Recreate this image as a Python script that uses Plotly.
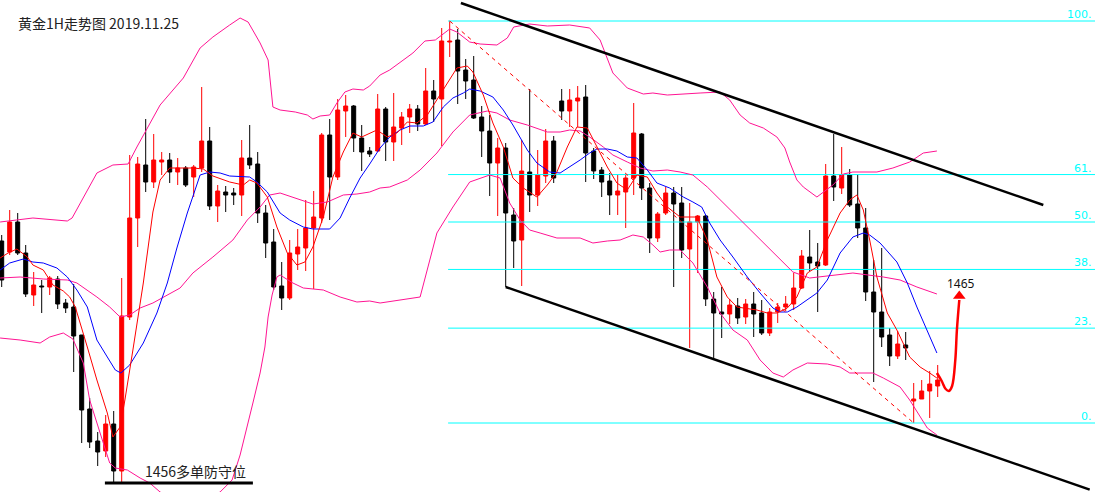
import plotly.graph_objects as go

# ---------------- candle data (1H gold) ----------------
opens = [
    1467.95, 1467.40, 1468.90, 1467.35, 1465.25, 1465.70, 1465.65, 1466.05, 1464.85, 1464.65,
    1463.25, 1459.55, 1457.95, 1457.45, 1458.80, 1456.45, 1464.15, 1469.10, 1471.75, 1470.90,
    1471.90, 1472.00, 1471.40, 1471.60, 1471.15, 1471.60, 1472.95, 1469.70, 1470.40, 1470.35,
    1470.25, 1472.10, 1471.80, 1469.35, 1467.90, 1465.70, 1465.10, 1467.30, 1467.60, 1468.60,
    1469.10, 1473.25, 1471.15, 1474.45, 1474.70, 1473.10, 1472.45, 1472.45, 1474.55, 1472.90,
    1473.60, 1474.15, 1474.55, 1473.80, 1475.45, 1475.05, 1477.90, 1478.00, 1476.50, 1476.00,
    1474.15, 1473.45, 1471.85, 1472.60, 1469.25, 1468.00, 1471.40, 1470.25, 1471.20, 1472.95,
    1474.95, 1474.45, 1474.95, 1475.15, 1472.45, 1471.50, 1470.95, 1470.25, 1470.40, 1471.10,
    1473.30, 1470.60, 1468.10, 1469.35, 1470.35, 1469.85, 1467.55, 1468.90, 1469.20, 1465.05,
    1464.40, 1464.30, 1464.70, 1464.15, 1464.80, 1464.35, 1463.35, 1464.40, 1464.65, 1464.80,
    1465.60, 1467.15, 1466.90, 1466.75, 1471.20, 1470.60, 1471.25, 1469.80, 1468.60, 1465.40,
    1464.40, 1463.25, 1462.20, 1462.75, 1459.95, 1460.05, 1460.45, 1460.70]
highs = [
    1468.25, 1469.50, 1469.35, 1467.75, 1466.40, 1466.00, 1466.20, 1466.20, 1465.05, 1465.80,
    1463.25, 1460.10, 1458.40, 1459.25, 1459.45, 1466.10, 1472.25, 1472.15, 1474.05, 1473.30,
    1472.40, 1472.35, 1472.10, 1471.70, 1471.75, 1475.65, 1473.65, 1470.75, 1470.70, 1470.60,
    1473.00, 1473.75, 1472.40, 1469.75, 1468.55, 1466.90, 1468.00, 1468.55, 1470.00, 1470.45,
    1473.35, 1474.05, 1475.05, 1475.25, 1474.75, 1473.75, 1472.65, 1475.30, 1474.65, 1475.35,
    1474.40, 1474.80, 1474.75, 1476.60, 1476.00, 1478.60, 1478.95, 1478.55, 1477.05, 1477.20,
    1474.70, 1474.25, 1473.10, 1472.85, 1469.60, 1473.00, 1475.55, 1472.50, 1473.55, 1473.20,
    1475.55, 1475.55, 1475.70, 1475.75, 1472.60, 1471.65, 1471.35, 1471.25, 1471.30, 1474.85,
    1473.35, 1470.85, 1469.40, 1470.65, 1470.65, 1470.65, 1469.85, 1469.25, 1469.25, 1465.40,
    1465.65, 1465.05, 1465.10, 1465.05, 1465.40, 1465.00, 1464.60, 1464.85, 1465.20, 1466.35,
    1467.50, 1468.50, 1467.85, 1471.80, 1473.30, 1472.65, 1471.55, 1471.30, 1469.60, 1467.00,
    1467.60, 1463.60, 1463.45, 1463.40, 1460.85, 1461.00, 1461.45, 1461.75]
lows = [
    1465.65, 1467.25, 1467.25, 1465.15, 1464.70, 1464.35, 1465.25, 1464.55, 1464.35, 1461.40,
    1457.85, 1457.60, 1456.70, 1457.15, 1455.90, 1455.90, 1464.00, 1467.65, 1470.40, 1470.60,
    1471.25, 1470.85, 1470.75, 1470.65, 1470.15, 1471.40, 1469.50, 1468.90, 1469.40, 1469.75,
    1469.20, 1471.55, 1468.85, 1467.10, 1465.50, 1464.50, 1465.00, 1466.50, 1466.45, 1465.55,
    1468.85, 1469.00, 1471.00, 1473.15, 1472.40, 1471.45, 1472.15, 1472.40, 1471.95, 1471.95,
    1472.75, 1473.35, 1473.45, 1473.75, 1473.90, 1472.70, 1477.15, 1474.80, 1475.05, 1474.05,
    1472.15, 1470.20, 1469.20, 1465.65, 1466.60, 1465.70, 1469.40, 1469.70, 1470.85, 1470.85,
    1474.00, 1473.65, 1473.65, 1470.90, 1471.05, 1470.15, 1469.25, 1469.25, 1468.60, 1470.25,
    1470.00, 1467.35, 1467.90, 1469.25, 1465.65, 1467.10, 1462.60, 1466.35, 1464.70, 1462.10,
    1463.10, 1463.80, 1463.80, 1463.80, 1463.15, 1463.25, 1463.20, 1463.85, 1464.45, 1464.50,
    1465.55, 1466.45, 1464.40, 1466.70, 1469.95, 1470.30, 1469.65, 1468.10, 1464.95, 1460.90,
    1462.65, 1461.70, 1462.05, 1462.00, 1458.85, 1460.05, 1459.10, 1460.15]
closes = [
    1466.00, 1468.90, 1467.35, 1465.30, 1465.75, 1465.65, 1466.10, 1464.80, 1464.60, 1463.20,
    1459.50, 1457.90, 1457.40, 1458.80, 1456.45, 1464.20, 1469.10, 1471.80, 1470.90, 1472.00,
    1472.00, 1471.40, 1471.60, 1470.75, 1471.65, 1472.95, 1469.70, 1470.45, 1470.25, 1470.25,
    1472.10, 1471.75, 1469.35, 1467.85, 1465.65, 1465.10, 1467.35, 1467.65, 1468.60, 1469.15,
    1473.25, 1471.15, 1474.50, 1474.70, 1473.10, 1472.40, 1472.30, 1474.55, 1472.90, 1473.65,
    1474.15, 1474.55, 1473.80, 1475.45, 1475.05, 1477.95, 1477.95, 1476.45, 1475.95, 1474.10,
    1473.45, 1471.85, 1472.60, 1469.35, 1467.95, 1471.45, 1470.25, 1471.25, 1472.95, 1471.10,
    1474.45, 1475.00, 1475.10, 1472.35, 1471.45, 1470.90, 1470.25, 1470.45, 1471.10, 1473.35,
    1470.60, 1468.10, 1469.30, 1470.35, 1469.80, 1467.50, 1468.90, 1469.20, 1465.05, 1464.35,
    1464.30, 1464.75, 1464.10, 1464.80, 1464.30, 1463.35, 1464.40, 1464.65, 1464.80, 1465.60,
    1467.20, 1466.85, 1466.70, 1471.20, 1470.65, 1471.25, 1469.75, 1468.60, 1465.40, 1464.40,
    1463.15, 1462.20, 1462.80, 1462.60, 1460.05, 1460.45, 1460.80, 1461.00]

# ---------------- indicators ----------------
ub_x = [-0.2, 3.9, 8.2, 8.8, 11.9, 13.9, 15.8, 16.9, 19.8, 22.7, 24.8, 26.4, 28.5, 29.8, 30.8, 32.3,
        33.3, 33.9, 34.8, 36.7, 38.2, 38.9, 39.8, 41.0, 41.9, 42.9, 43.9, 45.2, 46.0, 47.3, 48.5,
        50.2, 51.4, 52.9, 54.2, 56.0, 56.9, 58.5, 59.8, 61.9, 63.2, 64.0, 66.0, 68.2, 71.0, 73.5,
        74.8, 76.4, 78.2, 80.2, 81.4, 83.2, 84.8, 87.3, 89.8, 91.0, 92.3, 93.5, 95.2, 96.9, 97.9,
        98.5, 99.4, 100.2, 101.9, 102.7, 103.9, 105.2, 106.4, 109.4, 111.4, 113.5, 115.2, 116.9]
ub_y = [1468.90, 1469.10, 1468.95, 1469.10, 1471.35, 1471.75, 1471.80, 1472.65, 1474.75, 1476.10,
        1477.60, 1478.15, 1478.75, 1479.10, 1478.90, 1477.85, 1477.00, 1474.65, 1474.50, 1474.40,
        1474.25, 1474.05, 1474.20, 1474.25, 1474.85, 1475.40, 1475.55, 1475.50, 1475.70, 1476.25,
        1476.50, 1477.00, 1477.35, 1477.95, 1478.00, 1478.55, 1478.40, 1477.90, 1477.80, 1477.75,
        1478.10, 1478.65, 1478.80, 1478.70, 1478.75, 1478.60, 1478.00, 1476.35, 1475.60, 1475.30,
        1475.35, 1475.25, 1475.30, 1475.35, 1475.40, 1475.00, 1474.25, 1473.85, 1473.60, 1473.15,
        1472.60, 1471.90, 1471.00, 1470.65, 1470.15, 1470.40, 1470.75, 1471.30, 1471.40, 1471.40,
        1471.60, 1471.90, 1472.35, 1472.45]

mb_x = [-0.2, 2.3, 5.2, 8.2, 9.4, 11.9, 13.5, 14.8, 16.0, 17.3, 18.9, 20.2, 22.3, 23.9, 26.4, 28.9,
        30.7, 32.3, 33.5, 34.8, 36.4, 38.9, 40.7, 42.7, 44.4, 46.0, 47.3, 48.5, 50.7, 52.3, 54.4,
        56.4, 58.5, 60.7, 61.9, 63.5, 65.7, 68.2, 69.8, 71.0, 72.3, 73.5, 75.2, 76.4, 78.2, 79.8,
        81.4, 83.2, 84.8, 86.4, 88.2, 90.7, 93.2, 95.7, 97.3, 98.9, 101.0, 103.2, 106.4, 110.2,
        112.3, 114.4, 116.9]
mb_y = [1466.10, 1466.15, 1466.05, 1466.00, 1465.85, 1465.15, 1464.65, 1464.15, 1464.25, 1464.60,
        1464.85, 1465.15, 1465.60, 1466.35, 1467.15, 1468.00, 1469.00, 1469.65, 1470.25, 1470.35,
        1470.15, 1469.80, 1469.90, 1470.25, 1470.30, 1470.40, 1470.60, 1470.65, 1471.00, 1471.50,
        1472.35, 1473.40, 1474.25, 1474.45, 1474.35, 1474.00, 1473.75, 1473.40, 1473.40, 1473.50,
        1473.45, 1473.15, 1472.65, 1472.25, 1471.90, 1471.60, 1471.45, 1471.50, 1471.40, 1471.25,
        1470.65, 1469.65, 1468.65, 1467.65, 1467.00, 1466.40, 1466.10, 1466.20, 1466.35, 1466.15,
        1466.00, 1465.65, 1465.30]

lb_x = [-0.2, 2.3, 4.8, 6.0, 7.7, 8.9, 10.2, 11.0, 12.3, 13.5, 14.2, 15.7, 17.3, 18.5, 19.8, 21.7,
        23.5, 25.4, 27.3, 28.8, 29.8, 30.7, 31.4, 32.3, 32.9, 33.3, 33.8, 34.4, 34.8, 36.4, 37.7,
        40.2, 42.3, 44.4, 46.0, 47.3, 52.3, 54.4, 56.4, 58.5, 60.2, 61.0, 62.3, 63.5, 64.8, 66.0,
        67.3, 69.4, 72.3, 73.9, 75.7, 77.3, 78.9, 80.2, 81.4, 82.3, 83.5, 84.8, 86.4, 88.2, 89.8,
        91.4, 93.2, 94.8, 96.4, 97.7, 98.9, 100.7, 103.2, 104.8, 106.0, 108.9, 110.2, 112.3, 113.5,
        114.8, 115.7, 116.9]
lb_y = [1463.10, 1463.00, 1462.85, 1463.15, 1463.35, 1463.05, 1461.85, 1460.00, 1458.35, 1456.85,
        1456.60, 1456.50, 1456.10, 1455.85, 1455.40, 1455.00, 1454.85, 1455.00, 1455.40, 1456.00,
        1457.25, 1458.65, 1459.85, 1461.35, 1462.65, 1464.15, 1465.25, 1466.15, 1466.25, 1465.85,
        1465.60, 1465.50, 1465.15, 1464.90, 1464.95, 1464.85, 1465.15, 1468.35, 1469.65, 1470.90,
        1471.15, 1471.25, 1471.10, 1469.85, 1469.00, 1468.50, 1468.35, 1468.10, 1468.10, 1467.85,
        1467.95, 1468.00, 1468.25, 1468.15, 1467.75, 1467.40, 1467.50, 1467.50, 1466.85, 1465.65,
        1464.35, 1463.50, 1463.00, 1462.00, 1461.35, 1461.15, 1461.50, 1461.85, 1461.80, 1461.65,
        1461.35, 1461.35, 1461.10, 1460.65, 1460.00, 1459.15, 1458.60, 1458.25]

ma_fast_x = [-0.2, 0.8, 1.9, 3.2, 3.9, 5.2, 6.4, 7.7, 8.5, 9.2, 10.7, 11.9, 13.2, 13.9, 14.8, 15.4,
             16.4, 17.7, 18.9, 19.8, 21.0, 22.3, 23.9, 25.2, 26.4, 28.5, 30.2, 31.0, 31.9, 33.2,
             34.4, 35.7, 36.9, 37.9, 38.9, 40.2, 41.4, 42.7, 43.9, 45.0, 46.0, 46.9, 48.2, 49.4,
             50.7, 51.9, 53.2, 54.4, 55.7, 56.9, 58.2, 58.9, 60.2, 61.4, 62.7, 63.9, 65.2, 66.9,
             68.2, 69.4, 70.7, 71.9, 73.2, 74.4, 75.7, 76.9, 78.2, 79.4, 80.7, 81.9, 83.2, 84.8,
             86.9, 88.2, 89.4, 90.7, 91.9, 94.4, 95.7, 96.9, 98.2, 99.4, 100.7, 101.9, 103.2,
             104.8, 106.0, 106.9, 107.7, 108.5, 109.4, 110.7, 111.9, 113.5, 114.8, 116.0, 116.9]
ma_fast_y = [1467.10, 1467.35, 1467.55, 1467.15, 1466.75, 1466.50, 1465.75, 1465.45, 1465.15, 1464.65,
             1462.65, 1461.00, 1459.35, 1458.15, 1458.65, 1460.00, 1462.50, 1465.85, 1469.40, 1471.00,
             1471.60, 1471.60, 1471.60, 1471.55, 1471.20, 1470.90, 1470.75, 1471.00, 1470.85, 1470.15,
             1468.65, 1467.35, 1466.75, 1466.90, 1467.65, 1469.15, 1471.15, 1472.40, 1473.35, 1473.15,
             1473.35, 1473.50, 1473.15, 1473.35, 1473.90, 1473.85, 1474.25, 1475.00, 1475.85, 1476.60,
             1476.70, 1476.40, 1475.25, 1473.85, 1472.65, 1471.10, 1470.60, 1470.15, 1470.75, 1471.40,
             1472.65, 1473.65, 1473.60, 1472.65, 1471.65, 1470.85, 1470.50, 1471.25, 1471.15, 1470.35,
             1469.65, 1469.15, 1469.15, 1468.00, 1466.15, 1465.15, 1464.65, 1464.50, 1464.35, 1464.35,
             1464.60, 1465.15, 1466.35, 1466.65, 1468.00, 1469.35, 1470.00, 1470.25, 1469.50, 1468.00,
             1466.15, 1464.35, 1463.50, 1462.15, 1461.65, 1461.35, 1461.10]

ma_slow_x = [-0.2, 1.0, 2.7, 3.9, 5.2, 6.9, 8.2, 9.4, 10.7, 11.9, 13.2, 14.2, 14.9, 16.0, 17.7, 19.4,
             20.7, 21.9, 23.2, 24.8, 26.0, 27.3, 28.5, 31.0, 31.9, 33.2, 34.8, 36.0, 37.7, 38.9,
             41.0, 42.3, 43.5, 44.8, 46.0, 47.3, 48.5, 49.8, 51.0, 52.7, 53.9, 55.2, 56.4, 57.7,
             58.5, 59.8, 61.4, 62.7, 63.9, 65.7, 66.9, 68.5, 69.8, 71.0, 72.3, 73.5, 74.4, 75.7,
             76.9, 78.2, 79.4, 80.7, 81.9, 83.5, 85.2, 86.4, 87.5, 88.5, 89.8, 91.4, 93.2, 94.8,
             96.4, 97.3, 98.2, 99.4, 100.7, 101.9, 103.2, 104.8, 106.4, 107.7, 108.5, 109.8, 111.9,
             113.2, 114.4, 115.7, 116.9]
ma_slow_y = [1466.50, 1466.85, 1467.05, 1466.90, 1466.85, 1466.60, 1466.15, 1465.50, 1464.65, 1463.00,
             1462.15, 1461.50, 1461.35, 1461.75, 1462.85, 1464.35, 1465.85, 1467.60, 1469.35, 1471.25,
             1471.40, 1471.35, 1471.20, 1471.15, 1470.90, 1470.40, 1469.35, 1469.00, 1468.65, 1468.55,
             1468.55, 1469.10, 1470.10, 1471.10, 1471.80, 1472.60, 1473.15, 1473.50, 1473.70, 1473.70,
             1473.90, 1474.65, 1475.10, 1475.35, 1475.55, 1475.45, 1475.15, 1474.50, 1473.75, 1472.50,
             1471.85, 1471.40, 1471.35, 1471.65, 1472.00, 1472.35, 1472.55, 1472.55, 1472.45, 1472.15,
             1472.10, 1471.50, 1470.85, 1470.60, 1470.15, 1469.90, 1469.65, 1468.85, 1468.00, 1467.15,
             1466.15, 1465.35, 1464.60, 1464.40, 1464.40, 1464.65, 1465.00, 1465.35, 1466.00, 1467.35,
             1468.15, 1468.35, 1468.25, 1467.85, 1466.90, 1465.85, 1464.65, 1463.50, 1462.35]

# ---------------- drawings ----------------
fib_levels = [0, 23.6, 38.2, 50, 61.8, 100]
fib_labels = ["0.", "23.", "38.", "50.", "61.", "100."]
fib_high_idx, fib_low_idx = 56, 114
channel_upper_x = [57.4, 130.2]
channel_upper_y = [1479.85, 1469.75]
channel_lower_x = [63.0, 136.0]
channel_lower_y = [1465.65, 1455.52]
support_x = [12.9, 31.4]
support_price = 1455.85
arrow_x = [116.9, 117.5, 118.0, 118.4, 118.8, 119.2, 119.4, 119.7]
arrow_y = [1461.35, 1460.95, 1460.55, 1460.45, 1460.70, 1462.00, 1463.50, 1465.00]
target_price = 1465.2

title_text = "黄金1H走势图 2019.11.25"
support_text = "1456多单防守位"
target_text = "1465"

# ---------------- figure ----------------
RED = "#FF0000"
BLACK = "#000000"
PINK = "#FF1493"
CYAN = "#00FFFF"

n = len(opens)
idx = list(range(n))
colors = [RED if c >= o else BLACK for o, c in zip(opens, closes)]

fig = go.Figure()

# bodies
fig.add_trace(go.Bar(
    x=idx,
    base=[min(o, c) for o, c in zip(opens, closes)],
    y=[abs(c - o) for o, c in zip(opens, closes)],
    width=0.5,
    marker=dict(color=colors, line=dict(color=colors, width=1)),
    hoverinfo="skip", showlegend=False,
))

# wicks
for col in (RED, BLACK):
    wx, wy = [], []
    for i in idx:
        if colors[i] == col:
            wx += [i, i, None]
            wy += [lows[i], highs[i], None]
    fig.add_trace(go.Scatter(x=wx, y=wy, mode="lines",
                             line=dict(color=col, width=1),
                             hoverinfo="skip", showlegend=False))

# fib levels
hi = highs[fib_high_idx]
lo = lows[fib_low_idx]
x_right = 137
for lvl, lab in zip(fib_levels, fib_labels):
    p = lo + (hi - lo) * lvl / 100.0
    fig.add_trace(go.Scatter(x=[fib_high_idx - 0.2, x_right], y=[p, p], mode="lines",
                             line=dict(color=CYAN, width=1),
                             hoverinfo="skip", showlegend=False))
    fig.add_annotation(x=1, xref="paper", y=p, yref="y", text=lab, showarrow=False,
                       xanchor="right", yanchor="bottom", xshift=-1, yshift=-2,
                       font=dict(family="DejaVu Sans", size=11, color=CYAN))

# Bollinger bands
for bx, by in ((ub_x, ub_y), (mb_x, mb_y), (lb_x, lb_y)):
    fig.add_trace(go.Scatter(x=bx, y=by, mode="lines", line=dict(color=PINK, width=1),
                             hoverinfo="skip", showlegend=False))

# moving averages
fig.add_trace(go.Scatter(x=ma_slow_x, y=ma_slow_y, mode="lines",
                         line=dict(color="#0000FF", width=1), hoverinfo="skip", showlegend=False))
fig.add_trace(go.Scatter(x=ma_fast_x, y=ma_fast_y, mode="lines",
                         line=dict(color=RED, width=1), hoverinfo="skip", showlegend=False))

# dashed diagonal from high to low
fig.add_trace(go.Scatter(x=[fib_high_idx, fib_low_idx], y=[hi, lo], mode="lines",
                         line=dict(color=RED, width=1, dash="4px,4px"),
                         hoverinfo="skip", showlegend=False))

# channel lines
fig.add_trace(go.Scatter(x=channel_upper_x, y=channel_upper_y, mode="lines",
                         line=dict(color=BLACK, width=2.5), hoverinfo="skip", showlegend=False))
fig.add_trace(go.Scatter(x=channel_lower_x, y=channel_lower_y, mode="lines",
                         line=dict(color=BLACK, width=2.5), hoverinfo="skip", showlegend=False))

# support line
fig.add_trace(go.Scatter(x=support_x, y=[support_price, support_price], mode="lines",
                         line=dict(color=BLACK, width=3), hoverinfo="skip", showlegend=False))

# projected path arrow
fig.add_trace(go.Scatter(x=arrow_x, y=arrow_y, mode="lines",
                         line=dict(color=RED, width=2.5, shape="spline"),
                         hoverinfo="skip", showlegend=False))
fig.add_trace(go.Scatter(x=[arrow_x[-1]], y=[target_price], mode="markers",
                         marker=dict(symbol="triangle-up", size=11, color=RED),
                         hoverinfo="skip", showlegend=False))

# texts
fig.add_annotation(x=0.015, xref="paper", y=0.953, yref="paper", text=title_text,
                   showarrow=False, xanchor="left", yanchor="middle",
                   font=dict(family="Noto Sans CJK SC", size=14, color="#222222"))
fig.add_annotation(x=17.7, y=1456.45, text=support_text, showarrow=False,
                   xanchor="left", yanchor="middle",
                   font=dict(family="Noto Sans CJK SC", size=14, color="#222222"))
fig.add_annotation(x=117.9, y=1465.85, text=target_text, showarrow=False,
                   xanchor="left", yanchor="middle",
                   font=dict(family="Noto Sans", size=12, color="#111111"))

fig.update_layout(
    width=1095, height=492,
    margin=dict(l=0, r=0, t=0, b=0),
    paper_bgcolor="white", plot_bgcolor="white",
    showlegend=False,
    xaxis=dict(range=[-0.2125, 136.6625], visible=False, showgrid=False, zeroline=False),
    yaxis=dict(range=[1455.4, 1480.0], visible=False, showgrid=False, zeroline=False),
)

fig.write_html(
    "out.html",
    config={"displayModeBar": False, "staticPlot": True},
    post_script="document.body.style.margin='0px';document.body.style.padding='0px';"
                "document.body.style.overflow='hidden';",
)
